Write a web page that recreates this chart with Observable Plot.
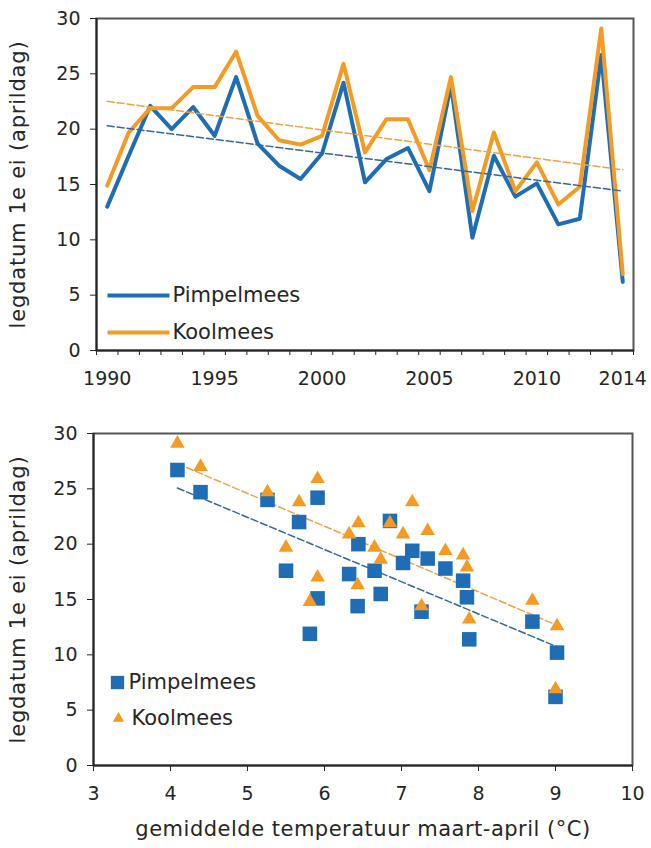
<!DOCTYPE html>
<html>
<head>
<meta charset="utf-8">
<script src="https://cdn.jsdelivr.net/npm/d3@7"></script>
<script src="https://cdn.jsdelivr.net/npm/@observablehq/plot@0.6"></script>
<style>
  body { margin: 0; background: #fff; }
  #chart { width: 651px; }
  #chart svg { display: block; }
  #chart g[aria-label="y-axis label"] { font-size: 21px; letter-spacing: 0.8px; }
  #chart g[aria-label="x-axis label"] { font-size: 21px; letter-spacing: 0.5px; }
</style>
</head>
<body>
<div id="chart"></div>
<script>
// Laying date of the first egg (day in April) per year, and mean March–April temperature
const years = [1990, 1991, 1992, 1993, 1994, 1995, 1996, 1997, 1998, 1999, 2000, 2001, 2002,
               2003, 2004, 2005, 2006, 2007, 2008, 2009, 2010, 2011, 2012, 2013, 2014];
const temperature = [8.70, 6.65, 6.85, 6.44, 5.67, 7.14, 4.39, 7.34, 7.80, 6.73, 7.57, 5.91, 7.85,
                     6.32, 7.02, 6.43, 5.26, 9.02, 5.50, 7.26, 5.91, 7.88, 5.81, 4.09, 9.00];
const pimpelmees = [13.0, 17.6, 22.1, 20.0, 22.0, 19.4, 24.7, 18.7, 16.7, 15.5, 17.8, 24.2, 15.2,
                    17.3, 18.3, 14.4, 24.0, 10.2, 17.6, 13.9, 15.1, 11.4, 11.9, 26.7, 6.2];
const koolmees = [14.9, 19.7, 21.9, 21.9, 23.8, 23.8, 27.0, 21.2, 19.0, 18.6, 19.4, 25.9, 17.9,
                  20.9, 20.9, 16.3, 24.7, 12.6, 19.7, 14.4, 17.0, 13.2, 14.8, 29.1, 6.9];

const seriesNames = ["Pimpelmees", "Koolmees"];
const seriesColors = ["#1f6db5", "#f59a23"];
const trendColors = ["#34679e", "#f2a244"];
const yearTicks = [1990, 1995, 2000, 2005, 2010, 2014];
const dayTicks = [0, 5, 10, 15, 20, 25, 30];
const tempTicks = [3, 4, 5, 6, 7, 8, 9, 10];
const yLabel = "legdatum 1e ei (aprildag)";
const xLabel = "gemiddelde temperatuur maart-april (°C)";

const rows = years.map((year, i) => ({
  year, temp: temperature[i], pimpel: pimpelmees[i], kool: koolmees[i]
}));

const font = "DejaVu Sans";
const fs = 19;
const legendFs = 21;
const ink = "#262626";
const style = {fontFamily: font, fontSize: fs + "px", color: ink, background: "white"};

// short horizontal stroke used as the legend swatch of a line series
const lineSwatch = {draw(ctx) { ctx.moveTo(-31, 0); ctx.lineTo(31, 0); }};

const timeChart = Plot.plot({
  width: 651, height: 400,
  marginTop: 18, marginBottom: 50, marginLeft: 96, marginRight: 18,
  style,
  x: {domain: [1989.5, 2014.5]},
  y: {domain: [0, 30]},
  marks: [
    Plot.frame({stroke: "#555", strokeWidth: 2}),
    Plot.axisY({ticks: dayTicks, tickSize: 6, tickPadding: 10, fontSize: fs, stroke: ink,
                label: yLabel, labelAnchor: "center", labelOffset: 86, labelArrow: "none"}),
    // category boundaries carry the small tick marks, years carry the labels
    Plot.axisX({ticks: d3.range(1989.5, 2015, 1), tickSize: 5, tickFormat: () => "", stroke: ink, label: null}),
    Plot.axisX({ticks: yearTicks, tickSize: 0, tickPadding: 21, tickFormat: d => String(d), fontSize: fs, label: null}),
    Plot.ruleX([1989.5], {stroke: ink, strokeWidth: 2}),
    Plot.ruleY([0], {stroke: ink, strokeWidth: 2}),
    Plot.line(rows, {x: "year", y: "pimpel", stroke: seriesColors[0], strokeWidth: 4}),
    Plot.line(rows, {x: "year", y: "kool", stroke: seriesColors[1], strokeWidth: 4}),
    Plot.linearRegressionY(rows, {x: "year", y: "pimpel", stroke: trendColors[0], strokeWidth: 1.5, strokeDasharray: "7,3", ci: 0}),
    Plot.linearRegressionY(rows, {x: "year", y: "kool", stroke: trendColors[1], strokeWidth: 1.5, strokeDasharray: "7,3", ci: 0}),
    // legend
    Plot.dot([0], {frameAnchor: "bottom-left", dx: 42, dy: -55, symbol: lineSwatch, fill: "none", stroke: seriesColors[0], strokeWidth: 4}),
    Plot.dot([0], {frameAnchor: "bottom-left", dx: 42, dy: -18, symbol: lineSwatch, fill: "none", stroke: seriesColors[1], strokeWidth: 4}),
    Plot.text([seriesNames[0]], {frameAnchor: "bottom-left", dx: 76, dy: -55, textAnchor: "start", lineAnchor: "middle", fontSize: legendFs, fill: ink}),
    Plot.text([seriesNames[1]], {frameAnchor: "bottom-left", dx: 76, dy: -18, textAnchor: "start", lineAnchor: "middle", fontSize: legendFs, fill: ink})
  ]
});

const tempChart = Plot.plot({
  width: 651, height: 448,
  marginTop: 33, marginBottom: 83, marginLeft: 93, marginRight: 19,
  style,
  x: {domain: [3, 10]},
  y: {domain: [0, 30]},
  marks: [
    Plot.frame({stroke: "#555", strokeWidth: 2}),
    Plot.axisY({ticks: dayTicks, tickSize: 6, tickPadding: 10, fontSize: fs, stroke: ink,
                label: yLabel, labelAnchor: "center", labelOffset: 83, labelArrow: "none"}),
    Plot.axisX({ticks: tempTicks, tickSize: 6, tickPadding: 15, fontSize: fs, stroke: ink, tickFormat: d3.format("d"),
                label: xLabel, labelAnchor: "center", labelOffset: 70, labelArrow: "none"}),
    Plot.ruleX([3], {stroke: ink, strokeWidth: 2}),
    Plot.ruleY([0], {stroke: ink, strokeWidth: 2}),
    Plot.linearRegressionY(rows, {x: "temp", y: "pimpel", stroke: trendColors[0], strokeWidth: 1.5, strokeDasharray: "7,3", ci: 0}),
    Plot.linearRegressionY(rows, {x: "temp", y: "kool", stroke: trendColors[1], strokeWidth: 1.5, strokeDasharray: "7,3", ci: 0}),
    Plot.dot(rows, {x: "temp", y: "pimpel", symbol: "square", r: 8.2, fill: seriesColors[0]}),
    Plot.dot(rows, {x: "temp", y: "kool", symbol: "triangle", r: 5.4, fill: seriesColors[1]}),
    // legend
    Plot.dot([0], {frameAnchor: "bottom-left", dx: 24, dy: -83, symbol: "square", r: 7.5, fill: seriesColors[0]}),
    Plot.dot([0], {frameAnchor: "bottom-left", dx: 25, dy: -47, symbol: "triangle", r: 4.2, fill: seriesColors[1]}),
    Plot.text([seriesNames[0]], {frameAnchor: "bottom-left", dx: 35, dy: -83, textAnchor: "start", lineAnchor: "middle", fontSize: legendFs, fill: ink}),
    Plot.text([seriesNames[1]], {frameAnchor: "bottom-left", dx: 38, dy: -47, textAnchor: "start", lineAnchor: "middle", fontSize: legendFs, fill: ink})
  ]
});

document.getElementById("chart").append(timeChart, tempChart);
</script>
</body>
</html>
